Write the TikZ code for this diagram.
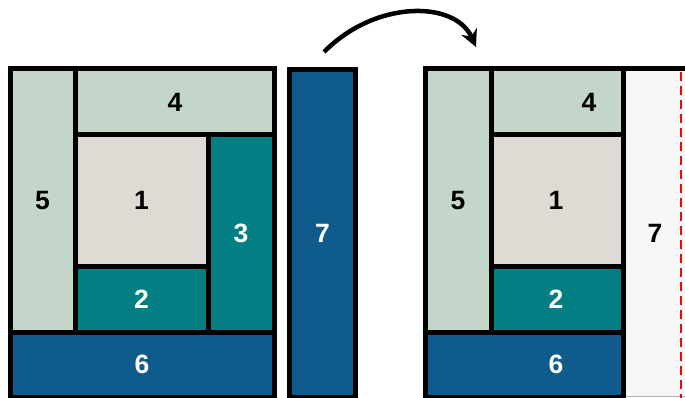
\documentclass[tikz,border=0pt]{standalone}
\usepackage{fontspec}
\setmainfont{Liberation Sans}
\usetikzlibrary{arrows.meta}
\definecolor{sage}{HTML}{C4D6CA}
\definecolor{stone}{HTML}{DEDBD4}
\definecolor{tealc}{HTML}{037F84}
\definecolor{bluec}{HTML}{0F5C8C}
\definecolor{ghost}{HTML}{F7F7F7}
\tikzset{
  box/.style={draw=black, line width=5pt, line join=miter},
  lbl/.style={font=\fontsize{26.5}{30}\selectfont\bfseries, inner sep=0pt},
  dk/.style={lbl, text=black},
  lt/.style={lbl, text=white},
}
\begin{document}
\begin{tikzpicture}[x=1pt,y=-1pt]
\useasboundingbox (0,0) rectangle (685,398);
% ---- left arrangement ----
\path[box, fill=sage]  (10,69) rectangle (75.5,332);
\path[box, fill=sage]  (75.5,69) rectangle (274.5,134.5);
\path[box, fill=stone] (75.5,134.5) rectangle (208,266);
\path[box, fill=tealc] (208,134.5) rectangle (274.5,332);
\path[box, fill=tealc] (75.5,266) rectangle (208,332);
\path[box, fill=bluec] (10,332) rectangle (274.5,397);
\path[box, fill=bluec] (289.5,69.5) rectangle (355.5,397);
\node[dk] (a5) at (42.5,200.5) {5};
\node[dk] (a4) at (175,102) {4};
\node[dk] (a1) at (141.5,200.5) {1};
\node[lt] (a3) at (241,233) {3};
\node[lt] (a2) at (141.5,299) {2};
\node[lt] (a6) at (142,364.5) {6};
\node[lt] (a7) at (322.5,233) {7};
% ---- right arrangement ----
\fill[ghost] (623.5,69) rectangle (690,396);
\draw[gray!60, line width=0.8pt] (623.5,396) -- (690,396);
\draw[red, line width=2pt, dash pattern=on 9pt off 5pt] (680.5,72) -- (680.5,398);
\draw[black, line width=5pt] (621,69) -- (690,69);
\path[box, fill=sage]  (425.5,69) rectangle (491.5,332);
\path[box, fill=sage]  (491.5,69) rectangle (623.5,134.5);
\path[box, fill=stone] (491.5,134.5) rectangle (623.5,266.5);
\path[box, fill=tealc] (491.5,266.5) rectangle (623.5,332);
\path[box, fill=bluec] (425.5,332) rectangle (623.5,397);
\node[dk] (b5) at (458,200.5) {5};
\node[dk] (b4) at (589,102) {4};
\node[dk] (b1) at (556,200.5) {1};
\node[lt] (b2) at (556,299) {2};
\node[lt] (b6) at (556,364.5) {6};
\node[dk] (b7) at (655,233) {7};
% ---- arrow ----
\coordinate (s) at (324,52);
\coordinate (t) at (476,47);
\draw[line width=4.5pt, -{Stealth[length=17pt,width=17pt]}] (s) .. controls (375,0) and (455,0) .. (t);
\end{tikzpicture}
\end{document}
